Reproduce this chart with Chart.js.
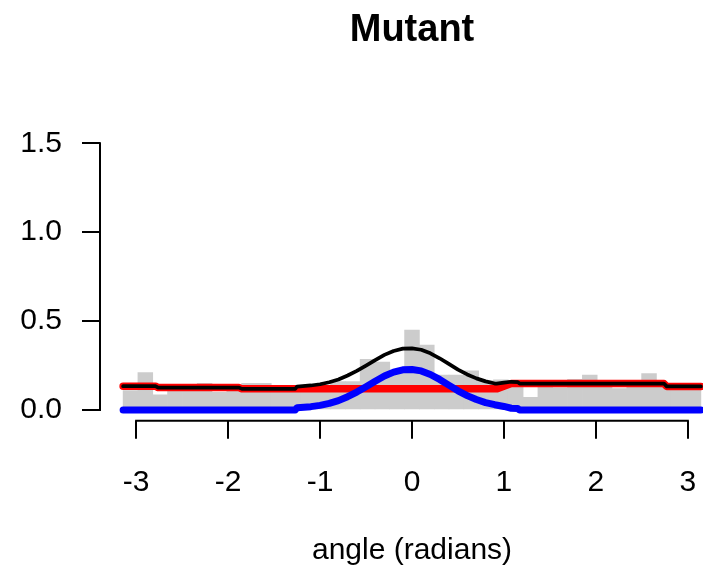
<!DOCTYPE html>
<html><head><meta charset="utf-8">
<script src="https://cdn.jsdelivr.net/npm/chart.js@4/dist/chart.umd.min.js"></script>
<style>
html,body{margin:0;padding:0;background:#fff;overflow:hidden;width:703px;height:571px}
#wrap{position:absolute;left:0;top:0;width:724px;height:571px}
</style>
</head><body><div id="wrap"><canvas id="c" width="724" height="571"></canvas></div>
<script>
// ---- data ----
const chartTitle = 'Mutant';
const xAxisTitle = 'angle (radians)';
const binCount = 39; // equal bins over [-pi, pi]
const histValues = [0.11,0.21,0.085,0.12,0.12,0.15,0.10,0.12,0.15,0.15,0.12,0.12,0.12,0.14,0.16,0.16,0.285,0.27,0.22,0.45,0.365,0.197,0.197,0.22,0.165,0.17,0.14,0.072,0.13,0.125,0.172,0.197,0.14,0.12,0.14,0.205,0.13,0.12,0.12];
const xTickValues = [-3,-2,-1,0,1,2,3];
const yTickValues = [0,0.5,1,1.5];
const yTickLabels = ['0.0','0.5','1.0','1.5'];

// red (background component) - step-like line
const redX = [-3.1416,-2.79,-2.76,-1.88,-1.85,0.92,1.08,2.74,2.77,3.1416];
const redY = [0.134,0.134,0.126,0.126,0.119,0.119,0.149,0.149,0.133,0.133];

// blue (peak component)
const blueX = [-3.1416,-1.27,-1.25,-1.1,-1.0,-0.9,-0.8,-0.7,-0.6,-0.5,-0.4,-0.3,-0.2,-0.1,0,0.1,0.2,0.3,0.4,0.5,0.6,0.7,0.8,0.9,1.0,1.08,1.15,1.17,3.1416];
const blueY = [0,0,0.013,0.019,0.026,0.037,0.053,0.075,0.101,0.131,0.162,0.191,0.213,0.226,0.228,0.220,0.200,0.172,0.140,0.108,0.081,0.059,0.042,0.030,0.020,0.010,0.008,0,0];

// black (mixture total)
const blackX = [-3.1416,-2.79,-2.76,-1.88,-1.85,-1.27,-1.25,-1.1,-1.0,-0.9,-0.8,-0.7,-0.6,-0.5,-0.4,-0.3,-0.2,-0.1,0,0.1,0.2,0.3,0.4,0.5,0.6,0.7,0.8,0.9,0.92,1.0,1.08,1.15,1.17,2.74,2.77,3.1416];
const blackY = [0.134,0.134,0.126,0.126,0.119,0.119,0.132,0.138,0.145,0.156,0.172,0.194,0.220,0.250,0.281,0.310,0.332,0.345,0.347,0.339,0.319,0.291,0.259,0.227,0.200,0.178,0.161,0.149,0.148,0.154,0.159,0.157,0.149,0.149,0.133,0.133];

// ---- build ----
const xPad = Math.PI * 2 * 0.04;
const xMin = -Math.PI - xPad, xMax = Math.PI + xPad;
const yMin = -0.06, yMax = 1.56;
const binW = 2 * Math.PI / binCount;
const histData = histValues.map((v, i) => ({x: -Math.PI + (i + 0.5) * binW, y: v}));
const pts = (xs, ys) => xs.map((x, i) => ({x, y: ys[i]}));
const FONT = "'Liberation Sans', Arial, Helvetica, sans-serif";

const axisLines = {
  id: 'axisLines',
  afterDraw(chart) {
    const {ctx, chartArea, scales: {x, y}} = chart;
    ctx.save();
    ctx.strokeStyle = '#000';
    ctx.lineWidth = 2;
    ctx.beginPath();
    ctx.moveTo(x.getPixelForValue(xTickValues[0]) - 1, chartArea.bottom);
    ctx.lineTo(x.getPixelForValue(xTickValues[xTickValues.length - 1]) + 1, chartArea.bottom);
    ctx.moveTo(chartArea.left, y.getPixelForValue(yTickValues[0]) + 1);
    ctx.lineTo(chartArea.left, y.getPixelForValue(yTickValues[yTickValues.length - 1]) - 1);
    ctx.stroke();
    ctx.restore();
  }
};

const lineDs = (label, data, color, width, order) => ({
  type: 'line', label, data, borderColor: color, borderWidth: width,
  pointRadius: 0, tension: 0, fill: false, order,
  borderCapStyle: 'round', borderJoinStyle: 'round'
});

new Chart(document.getElementById('c'), {
  type: 'bar',
  data: {
    datasets: [
      {type: 'bar', label: 'hist', data: histData, backgroundColor: '#cccccc',
       borderWidth: 0, barPercentage: 1, categoryPercentage: 1, order: 4},
      lineDs('red', pts(redX, redY), '#ff0000', 7.5, 3),
      lineDs('black', pts(blackX, blackY), '#000000', 3.75, 2),
      lineDs('blue', pts(blueX, blueY), '#0000ff', 7, 1)
    ]
  },
  options: {
    responsive: false, animation: false, devicePixelRatio: 1,
    layout: {padding: 0},
    plugins: {
      legend: {display: false}, tooltip: {enabled: false},
      title: {display: true, fullSize: false, text: chartTitle, color: '#000',
        font: {family: FONT, size: 38, weight: 'bold', lineHeight: 1.2},
        padding: {top: 8, bottom: 79}}
    },
    scales: {
      x: {
        type: 'linear', min: xMin, max: xMax, offset: false,
        afterBuildTicks: s => { s.ticks = xTickValues.map(v => ({value: v})); },
        afterFit: s => { s.height = 150.3; },
        ticks: {color: '#000', font: {family: FONT, size: 30}, padding: 26,
          maxRotation: 0, autoSkip: false, callback: v => String(v)},
        grid: {offset: false, drawOnChartArea: false, drawTicks: true, tickLength: 18, color: '#000', lineWidth: 2},
        border: {display: false},
        title: {display: true, text: xAxisTitle, color: '#000',
          font: {family: FONT, size: 30}, padding: {top: 0, bottom: 2}}
      },
      y: {
        type: 'linear', min: yMin, max: yMax,
        afterBuildTicks: s => { s.ticks = yTickValues.map(v => ({value: v})); },
        afterFit: s => { s.width = 100; },
        ticks: {color: '#000', font: {family: FONT, size: 30}, padding: 20,
          callback: v => yTickLabels[yTickValues.indexOf(v)]},
        grid: {drawOnChartArea: false, drawTicks: true, tickLength: 18, color: '#000', lineWidth: 2},
        border: {display: false}
      }
    }
  },
  plugins: [axisLines]
});
</script>
</body></html>
